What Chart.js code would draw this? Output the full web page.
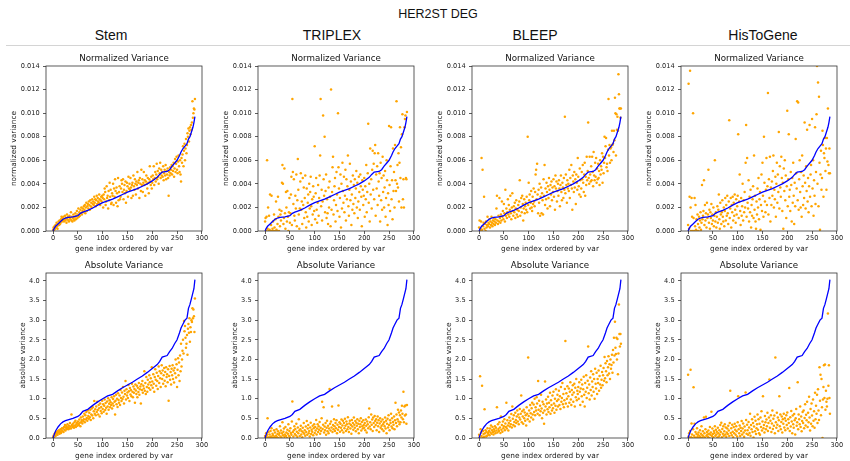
<!DOCTYPE html>
<html><head><meta charset="utf-8">
<script src="https://cdn.jsdelivr.net/npm/chart.js@4.4.1/dist/chart.umd.min.js"></script>
<style>
html,body{margin:0;padding:0;background:#fff;}
#wrap{position:relative;width:850px;height:461px;overflow:hidden;font-family:"Liberation Sans",Arial,sans-serif;}
.t{position:absolute;transform:translate(-50%,-50%);white-space:nowrap;color:#111;}
#rule{position:absolute;left:6px;top:45px;width:844px;height:1px;background:#d4d4d4;}
canvas{position:absolute;}
</style></head><body><div id="wrap"><div id="rule"></div></div>
<script>
// ---------- data ----------
const figTitle = 'HER2ST DEG';
const models = ['Stem', 'TRIPLEX', 'BLEEP', 'HisToGene'];
const rowTitles = ['Normalized Variance', 'Absolute Variance'];
const rowYLabels = ['normalized variance', 'absolute variance'];
const xLabel = 'gene index ordered by var';
const geneIndexTicks = [0, 50, 100, 150, 200, 250, 300];
const normTicks = [0, 0.002, 0.004, 0.006, 0.008, 0.010, 0.012, 0.014];
const absTicks = [0, 0.5, 1.0, 1.5, 2.0, 2.5, 3.0, 3.5, 4.0];

// ground-truth variance (blue line), gene index -> value
const lineIdx = [0,2,5,10,15,20,25,30,40,50,55,60,70,80,90,100,110,120,130,140,150,160,170,180,190,200,210,215,220,230,235,240,245,250,255,258,262,266,270,273,276,279,282,284,286];
// normalized variance, units of 1e-4
const normLineE4 = [0,2,4,6,8,10,11,11.5,12,13,15,16,17.5,19.5,22,24,25.5,27,29,31,33,34.5,36,38,40,42.5,45.5,48,50,50.5,52,55,57.5,60,64,67,70,72,74,78,80,84,88,92,97];
// absolute variance, units of 1e-2
const absLineE2 = [0,8,18,28,36,41,44,46,50,55,60,68,73,83,92,100,107,111,120,128,135,142,150,158,167,177,187,195,206,210,220,228,240,250,268,280,290,300,305,330,340,355,370,380,403];

// predicted normalized variance per gene index (units of 1e-4)
const stemNormE4 = [
1,3,0,4,2,5,3,7,4,2,6,8,5,9,6,7,10,12,8,11,
9,12,8,10,13,9,11,7,14,10,12,9,8,13,11,10,16,9,12,8,
11,14,10,9,12,15,10,13,17,11,14,19,12,16,13,18,15,20,14,17,
19,16,21,18,22,15,20,24,17,21,23,19,25,22,18,26,21,24,20,27,
23,25,22,29,24,27,21,26,30,23,28,25,24,31,27,22,26,29,25,30,
28,20,31,27,36,33,22,25,38,28,30,19,34,26,41,29,35,23,24,32,
30,40,22,36,29,44,34,24,37,32,21,45,26,33,38,27,29,36,43,40,
33,44,27,35,39,32,42,24,34,41,38,29,46,36,40,35,45,37,28,39,
41,30,47,38,35,44,40,31,42,39,50,36,41,43,28,45,40,34,52,39,
44,33,41,50,39,43,30,42,47,40,36,45,41,32,44,55,42,39,46,36,
41,47,44,55,39,45,50,42,48,57,44,51,46,40,53,49,58,45,52,47,
50,46,55,43,49,52,47,56,44,51,48,53,45,30,50,47,54,49,52,56,
48,55,51,58,46,53,61,50,57,63,52,49,59,64,55,50,60,48,42,62,
58,65,72,55,68,74,60,70,78,66,73,83,80,87,76,85,88,82,90,86,
92,110,96,100,104,103,112];
const triplexNormE4 = [
8,11,0,12,60,2,20,0,13,1,31,0,5,30,0,2,8,0,14,3,
0,10,25,1,0,6,29,12,0,18,4,14,9,17,41,56,40,6,11,53,
15,2,33,20,8,34,12,0,16,28,7,15,31,46,5,112,50,23,44,13,
9,30,19,48,4,26,61,35,14,2,19,42,49,18,25,6,45,22,37,11,
28,47,16,3,36,12,24,31,8,40,19,33,46,21,5,27,14,38,29,17,
72,10,32,45,18,7,24,39,13,28,47,64,112,21,35,9,25,98,44,30,
80,16,34,48,11,27,15,6,37,20,42,29,4,120,18,33,54,63,14,26,
38,45,8,22,50,31,17,100,54,36,12,28,48,3,40,19,58,34,24,46,
16,30,52,9,44,27,38,64,21,13,35,57,26,42,5,31,18,47,23,39,
15,44,28,36,51,20,41,11,25,46,33,18,48,38,29,4,43,35,22,30,
45,12,38,27,56,16,33,49,91,24,40,8,70,31,44,19,52,68,35,57,
27,66,73,13,48,36,55,22,66,42,30,49,8,58,26,45,18,63,33,47,
20,37,51,12,28,60,43,5,32,22,89,39,17,55,88,27,43,10,70,34,
50,20,73,43,34,110,40,56,37,66,25,58,88,45,71,20,82,99,27,44,
20,88,95,98,45,44,101];
const bleepNormE4 = [
3,9,0,2,8,62,1,52,4,7,29,2,6,0,8,3,5,12,4,7,
6,10,3,8,5,12,7,4,9,6,11,8,5,10,7,19,30,9,6,13,
8,28,11,7,14,9,25,12,17,10,23,15,8,35,13,19,11,16,27,14,
22,12,18,30,15,10,20,32,17,13,21,16,24,11,19,26,14,18,12,22,
17,25,43,13,20,28,16,30,23,9,19,27,15,21,24,18,29,16,80,22,
41,26,31,19,24,34,20,17,29,23,36,25,21,33,48,52,27,57,31,15,
35,24,40,13,29,37,15,32,26,14,44,30,56,22,36,27,41,33,19,38,
28,45,35,21,39,31,42,26,37,33,44,29,38,18,47,36,42,25,34,40,
30,43,36,21,39,47,33,26,41,37,28,45,35,97,32,48,39,24,43,36,
40,34,52,28,45,39,56,36,18,47,42,33,50,37,44,23,48,41,35,62,
46,38,31,53,43,29,36,50,44,56,41,33,48,58,30,46,39,63,43,51,
92,45,40,63,48,42,55,43,63,50,38,67,47,43,58,46,62,41,53,44,
57,45,51,39,60,48,55,52,66,41,63,49,58,80,62,72,79,54,57,51,
69,112,64,73,58,70,71,60,85,73,74,67,85,77,113,100,64,99,86,97,
85,133,116,104,104,96,104];
const histogeneNormE4 = [
5,125,2,29,136,20,0,28,12,0,100,11,0,28,4,22,1,10,0,14,
6,0,12,3,9,16,1,7,39,10,13,17,43,5,22,9,15,3,24,11,
14,52,7,18,2,16,11,23,6,14,9,20,4,13,60,8,16,3,12,21,
7,18,31,10,2,24,14,6,16,26,12,8,20,4,17,28,9,22,13,30,
15,6,25,94,11,19,28,3,22,16,29,9,24,13,31,18,7,27,14,21,
30,82,11,25,48,17,5,28,13,21,40,9,26,16,33,20,58,90,12,62,
24,19,43,8,29,16,35,3,22,13,27,38,11,64,18,30,8,2,25,14,
36,20,45,10,27,33,1,22,48,17,58,30,12,80,41,25,16,35,62,22,
38,117,14,44,28,63,8,37,22,42,30,51,64,20,35,27,46,12,40,58,
24,48,33,84,19,55,37,29,63,45,17,41,2,53,34,60,26,47,11,38,
102,21,44,82,29,35,17,50,39,8,45,24,58,30,6,41,21,78,49,36,
110,26,109,18,44,60,33,20,50,12,64,38,22,47,28,92,41,19,55,34,
86,25,45,16,38,90,29,48,56,21,95,36,60,13,43,30,88,23,50,99,
140,40,126,21,114,58,1,48,68,35,45,85,73,29,66,62,79,51,70,35,
79,59,104,56,49,70,49];

// predicted absolute variance per gene index (units of 1e-2)
const stemAbsE2 = [
2,6,0,10,12,5,15,9,13,8,18,14,20,11,16,22,13,19,25,17,
24,15,28,21,33,19,26,30,23,35,27,22,31,25,38,29,24,60,33,28,
36,30,26,40,32,44,28,35,38,31,42,36,33,47,39,30,52,41,45,37,
55,43,48,62,40,58,47,66,51,44,70,56,49,64,53,72,46,60,75,57,
78,50,68,94,62,73,58,80,66,92,71,60,84,76,55,88,69,79,63,95,
74,86,67,82,98,71,89,77,62,93,80,101,72,87,96,78,91,84,104,75,
88,99,82,106,92,60,95,110,86,100,79,114,97,90,108,84,122,102,94,116,
99,130,105,88,120,112,145,98,124,108,116,102,135,119,94,127,111,122,106,138,
118,104,131,115,125,90,136,121,112,133,104,128,117,140,110,124,131,88,137,122,
145,115,133,126,170,120,140,112,155,130,118,148,136,127,160,142,123,152,134,180,
144,128,162,138,118,155,175,148,133,166,145,125,158,182,140,170,152,130,165,185,
150,172,138,160,178,146,168,132,180,155,162,142,175,95,158,183,148,168,136,176,
160,185,150,172,141,178,165,200,154,188,130,174,203,160,192,145,210,170,240,182,
200,222,250,215,298,272,285,255,230,240,262,212,278,290,268,305,245,282,270,300,
295,330,305,327,310,270,355];
const triplexAbsE2 = [
5,0,12,3,8,50,0,15,2,9,0,18,4,25,1,11,7,0,20,3,
14,0,6,22,2,10,17,0,8,13,30,4,19,1,12,40,7,16,24,3,
9,28,5,14,0,21,11,35,6,18,2,25,13,8,42,93,15,4,20,30,
10,23,7,36,16,3,27,12,48,19,5,22,31,9,17,2,26,14,38,11,
20,6,29,15,43,8,24,33,12,18,4,27,39,10,21,16,31,7,25,35,
13,28,19,46,9,24,35,15,30,21,41,11,26,18,50,92,23,34,78,14,
29,20,38,8,26,44,17,31,12,24,125,36,19,42,27,80,15,33,22,48,
30,18,38,25,45,12,34,21,83,28,40,16,36,26,47,20,32,44,14,38,
25,49,31,18,42,35,22,53,28,15,37,44,24,33,11,46,29,38,21,52,
34,26,43,17,39,31,48,22,36,12,44,28,35,50,19,41,30,24,45,33,
26,38,20,47,31,14,42,35,25,53,75,29,40,22,60,34,47,18,52,38,
28,56,43,33,48,20,39,55,30,45,15,37,50,26,42,31,22,47,35,18,
40,30,52,24,44,12,36,49,27,58,33,20,45,38,62,29,50,25,41,34,
55,22,45,90,38,60,30,48,72,42,65,35,58,40,70,52,82,62,48,118,
40,80,57,83,60,36,84];
const bleepAbsE2 = [
8,2,157,22,14,5,133,0,18,10,3,73,12,20,4,16,6,25,13,9,
18,7,24,14,32,11,20,28,15,9,22,17,30,12,26,19,78,14,35,23,
18,40,27,13,55,21,33,16,42,25,30,48,20,37,28,90,24,45,32,19,
38,52,29,44,35,61,27,80,49,33,58,41,30,64,46,38,55,70,42,60,
35,52,74,47,62,108,40,68,55,36,72,50,65,44,58,32,78,62,48,205,
56,70,42,84,63,52,76,90,60,47,85,66,100,58,78,70,104,88,62,145,
72,95,58,82,68,110,75,50,92,64,86,36,70,144,80,98,60,88,73,105,
66,90,78,115,62,96,84,70,108,76,118,88,64,100,82,124,72,94,110,80,
98,120,84,106,74,130,92,102,140,86,112,78,96,125,247,88,114,100,132,80,
106,126,90,118,142,98,84,122,110,134,92,116,138,80,128,104,150,96,120,112,
130,100,142,118,84,126,148,106,136,92,124,156,110,80,140,118,160,102,128,146,
233,114,136,98,154,122,170,108,144,130,162,118,150,100,176,138,126,166,112,150,
140,172,120,158,136,184,128,148,168,134,160,178,146,206,152,190,170,142,196,160,
180,208,164,188,150,200,176,186,212,166,224,192,255,210,296,230,214,255,200,252,
162,215,340,265,233,265,240];
const histogeneAbsE2 = [
161,4,12,0,18,174,2,37,9,0,22,129,6,36,1,15,0,10,25,3,
8,14,0,5,20,2,11,30,0,7,17,4,52,12,1,22,54,6,15,9,
3,19,11,0,28,8,14,67,5,24,10,2,18,13,30,6,21,9,16,1,
26,12,4,20,8,33,15,39,2,23,11,30,6,17,35,9,27,3,14,24,
10,31,19,5,38,120,13,25,7,34,16,2,28,12,36,21,8,30,17,4,
40,106,22,12,32,5,26,18,43,9,24,37,14,3,29,19,116,46,11,34,
20,8,41,27,13,62,6,33,22,48,15,38,1,29,54,17,44,10,25,35,
60,21,48,12,36,8,52,28,68,19,42,106,25,33,14,56,40,22,47,30,
64,18,38,52,149,26,44,58,15,37,70,23,49,31,57,12,205,40,26,64,
34,52,18,45,106,30,60,22,41,55,14,48,36,62,27,50,20,44,58,33,
65,24,48,38,127,18,53,29,69,42,12,57,35,26,61,45,9,50,74,31,
40,142,22,60,48,35,80,28,55,17,43,66,38,70,25,51,86,32,59,45,
92,28,64,40,105,52,19,74,36,88,57,30,98,44,68,26,115,48,82,62,
110,38,124,70,46,180,95,161,58,150,78,0,98,130,185,102,187,72,120,92,
80,100,317,133,185,102,62];

// ---------- layout ----------
const plotLefts = [46, 258, 472, 681];
const plotW = 156, plotH = 165;
const rowTops = [66, 273];
const headerX = [111, 332, 535, 763];
const L = 45, TOPPAD = 20, RIGHTPAD = 14, XAXIS_H = 30;

Chart.defaults.font.family = 'DejaVu Sans';
Chart.defaults.color = '#222';

const wrap = document.getElementById('wrap');
function addText(txt, x, y, size) {
  const d = document.createElement('div');
  d.className = 't'; d.textContent = txt;
  d.style.left = x + 'px'; d.style.top = y + 'px'; d.style.fontSize = size + 'px';
  wrap.appendChild(d);
}
addText(figTitle, 438, 14, 12.5);
models.forEach((m, i) => addText(m, headerX[i], 35, 14));

const frame = {
  id: 'frame',
  afterDatasetsDraw(c) {
    const a = c.chartArea, ctx = c.ctx;
    ctx.save(); ctx.strokeStyle = '#333'; ctx.lineWidth = 0.8;
    ctx.strokeRect(a.left, a.top, a.right - a.left, a.bottom - a.top);
    ctx.restore();
  }
};

const rows = [
  { series: [stemNormE4, triplexNormE4, bleepNormE4, histogeneNormE4], unit: 1e-4, line: normLineE4,
    max: 0.014, ticks: normTicks, dec: 3, ytitlePad: 8.2 },
  { series: [stemAbsE2, triplexAbsE2, bleepAbsE2, histogeneAbsE2], unit: 1e-2, line: absLineE2,
    max: 4.2, ticks: absTicks, dec: 1, ytitlePad: 17.2 }
];

const titleFont = 8.7, titleLH = titleFont * 1.2, titlePadTop = 2, titlePadBot = 2.2;

rows.forEach((row, r) => {
  row.series.forEach((vals, c) => {
    const cv = document.createElement('canvas');
    const W = L + plotW + RIGHTPAD, H = TOPPAD + plotH + XAXIS_H;
    cv.width = W; cv.height = H;
    cv.style.left = (plotLefts[c] - L) + 'px';
    cv.style.top = (rowTops[r] - TOPPAD) + 'px';
    cv.style.width = W + 'px'; cv.style.height = H + 'px';
    wrap.appendChild(cv);
    const pts = vals.map((v, i) => ({ x: i, y: v * row.unit }));
    const linePts = lineIdx.map((g, k) => ({ x: g, y: row.line[k] * row.unit }));
    new Chart(cv, {
      type: 'scatter',
      data: { datasets: [
        { data: linePts, showLine: true, borderColor: '#0000ff', backgroundColor: '#0000ff', borderWidth: 1.3, pointRadius: 0, tension: 0, order: 0 },
        { data: pts, backgroundColor: '#ffa500', borderWidth: 0, pointRadius: 1.25, order: 1 }
      ]},
      options: {
        responsive: false, animation: false, devicePixelRatio: 1,
        layout: { padding: { left: 0, right: RIGHTPAD, top: TOPPAD - (titleLH + titlePadTop + titlePadBot), bottom: 0 } },
        plugins: {
          legend: { display: false }, tooltip: { enabled: false },
          title: { display: true, fullSize: false, text: rowTitles[r], color: '#111',
            font: { size: titleFont, weight: 'normal' }, padding: { top: titlePadTop, bottom: titlePadBot } }
        },
        scales: {
          x: {
            type: 'linear', min: -14.3, max: 300.3,
            afterBuildTicks: s => { s.ticks = geneIndexTicks.map(v => ({ value: v })); },
            afterFit: s => { s.height = XAXIS_H; },
            ticks: { font: { size: 6.6 }, color: '#222', padding: 0.7, maxRotation: 0, autoSkip: false, callback: v => String(v) },
            grid: { display: true, drawOnChartArea: false, drawTicks: true, tickLength: 3, color: '#333', lineWidth: 0.8 },
            border: { display: false },
            title: { display: true, text: xLabel, color: '#222', font: { size: 7.4 }, padding: { top: 0, bottom: 7.16 } }
          },
          y: {
            type: 'linear', min: 0, max: row.max,
            afterBuildTicks: s => { s.ticks = row.ticks.map(v => ({ value: v })); },
            afterFit: s => { s.width = L; },
            ticks: { font: { size: 6.6 }, color: '#222', padding: 3.4, autoSkip: false, callback: v => Number(v).toFixed(row.dec) },
            grid: { display: true, drawOnChartArea: false, drawTicks: true, tickLength: 3, color: '#333', lineWidth: 0.8 },
            border: { display: false },
            title: { display: true, text: rowYLabels[r], color: '#222', font: { size: 7.4 }, padding: { top: row.ytitlePad, bottom: 0 } }
          }
        }
      },
      plugins: [frame]
    });
  });
});
</script></body></html>
